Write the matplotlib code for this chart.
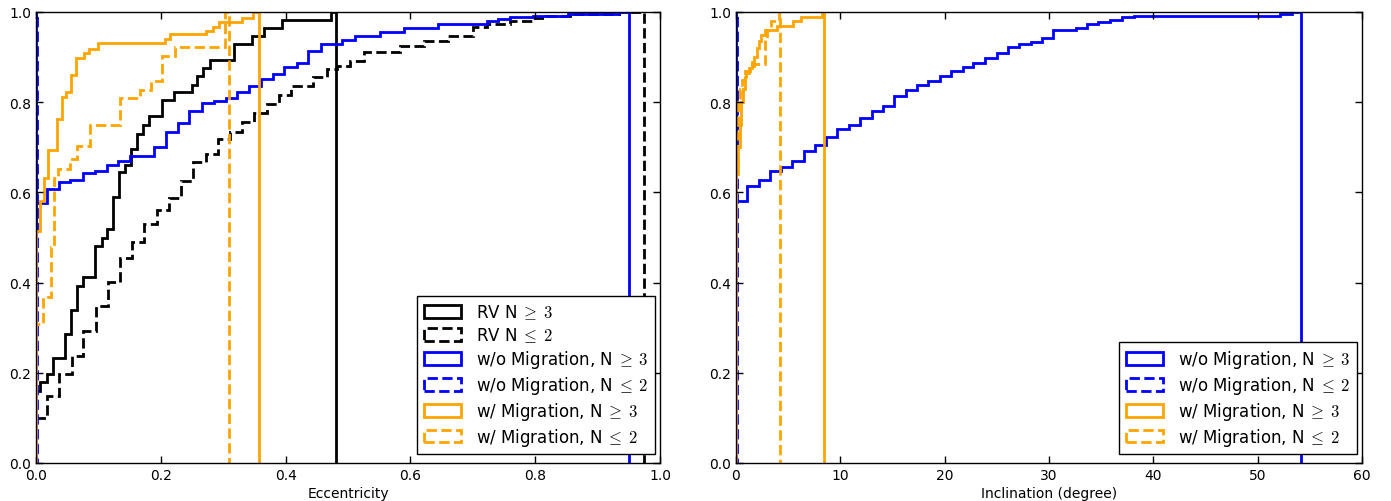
import matplotlib
matplotlib.use("Agg")
import matplotlib.pyplot as plt
from matplotlib.patches import Patch

plt.rcParams['mathtext.fontset'] = 'cm'
plt.rcParams['font.family'] = ['DejaVu Sans']

# ---------------- Left panel: eccentricity (cumulative fractions) ----------------
rv_ge3_edges = [0, 0.0064, 0.0171, 0.0267, 0.0459, 0.0556, 0.0652, 0.0748, 0.0946, 0.1052,
                0.1143, 0.1229, 0.1335, 0.1426, 0.1517, 0.1624, 0.1720, 0.1816, 0.2014, 0.2212,
                0.2495, 0.2585, 0.2682, 0.2789, 0.3173, 0.3456, 0.3659, 0.3948, 0.4728, 0.481]
rv_ge3_vals = [0.16, 0.18, 0.197, 0.232, 0.286, 0.34, 0.393, 0.412, 0.482, 0.50,
               0.519, 0.59, 0.645, 0.661, 0.696, 0.73, 0.749, 0.769, 0.805, 0.822,
               0.838, 0.857, 0.875, 0.893, 0.928, 0.946, 0.964, 0.982, 1.0]

rv_le2_edges = [0, 0.0171, 0.0374, 0.0572, 0.0759, 0.0956, 0.1149, 0.1346, 0.1544, 0.1736,
                0.1934, 0.2131, 0.2324, 0.2521, 0.2719, 0.2911, 0.3109, 0.3307, 0.3499, 0.3697,
                0.3894, 0.4087, 0.444, 0.466, 0.482, 0.503, 0.525, 0.583, 0.621, 0.661,
                0.701, 0.722, 0.760, 0.797, 0.818, 0.856, 0.935, 0.975]
rv_le2_vals = [0.099, 0.149, 0.197, 0.237, 0.293, 0.349, 0.402, 0.454, 0.491, 0.530,
               0.562, 0.588, 0.626, 0.667, 0.685, 0.718, 0.733, 0.757, 0.776, 0.796,
               0.816, 0.837, 0.855, 0.874, 0.881, 0.892, 0.912, 0.925, 0.936, 0.947,
               0.966, 0.973, 0.979, 0.986, 0.992, 0.996, 1.0]

nomig_ge3_e_edges = [0, 0.0171, 0.0374, 0.0545, 0.0748, 0.0946, 0.1132, 0.1319, 0.1506, 0.1891,
                     0.2083, 0.2270, 0.2457, 0.2655, 0.2853, 0.3039, 0.3216, 0.3413, 0.3606, 0.3793,
                     0.3980, 0.4177, 0.4364, 0.4562, 0.490, 0.511, 0.551, 0.589, 0.645, 0.722,
                     0.741, 0.760, 0.797, 0.853, 0.935, 0.951]
nomig_ge3_e_vals = [0.577, 0.607, 0.624, 0.628, 0.643, 0.648, 0.661, 0.669, 0.681, 0.701,
                    0.735, 0.754, 0.781, 0.798, 0.803, 0.810, 0.822, 0.835, 0.851, 0.862,
                    0.879, 0.888, 0.914, 0.928, 0.937, 0.946, 0.955, 0.965, 0.973, 0.979,
                    0.984, 0.988, 0.992, 0.996, 1.0]

nomig_le2_e_edges = [0, 0.002]
nomig_le2_e_vals = [1.0]

mig_ge3_e_edges = [0, 0.0064, 0.0128, 0.0198, 0.0331, 0.0411, 0.0481, 0.0556, 0.0636, 0.0775,
                   0.0849, 0.0999, 0.2067, 0.2147, 0.2724, 0.2842, 0.2938, 0.3296, 0.3472, 0.358]
mig_ge3_e_vals = [0.515, 0.582, 0.633, 0.693, 0.763, 0.811, 0.822, 0.860, 0.899, 0.910,
                  0.919, 0.931, 0.940, 0.951, 0.957, 0.967, 0.977, 0.986, 1.0]

mig_le2_e_edges = [0, 0.0107, 0.0235, 0.0288, 0.0357, 0.0545, 0.065, 0.0865, 0.1346, 0.1667,
                   0.1843, 0.2019, 0.2228, 0.303, 0.31]
mig_le2_e_vals = [0.308, 0.367, 0.480, 0.633, 0.652, 0.674, 0.703, 0.749, 0.809, 0.828,
                  0.848, 0.903, 0.923, 1.0]

# ---------------- Right panel: inclination (degree) ----------------
nomig_ge3_i_edges = [0, 1.09, 2.17, 3.23, 4.28, 5.37, 6.52, 7.6, 8.6, 9.71,
                     10.86, 11.89, 13.0, 14.12, 15.14, 16.29, 17.38, 18.43, 19.55, 20.61,
                     21.73, 22.75, 23.87, 24.99, 26.04, 27.12, 28.24, 29.3, 30.35, 32.59,
                     33.61, 34.73, 35.85, 36.97, 38.1, 52.14, 53.26, 54.2]
nomig_ge3_i_vals = [0.580, 0.615, 0.628, 0.647, 0.656, 0.670, 0.691, 0.706, 0.722, 0.741,
                    0.749, 0.764, 0.781, 0.791, 0.813, 0.827, 0.838, 0.848, 0.857, 0.869,
                    0.879, 0.888, 0.897, 0.910, 0.923, 0.929, 0.933, 0.942, 0.959, 0.964,
                    0.973, 0.977, 0.983, 0.989, 0.992, 0.996, 1.0]

nomig_le2_i_edges = [0, 0.1]
nomig_le2_i_vals = [1.0]

mig_ge3_i_edges = [0, 0.17, 0.34, 0.5, 0.67, 0.85, 1.0, 1.2, 1.5, 1.7,
                   2.0, 2.2, 2.4, 2.75, 3.96, 5.43, 6.2, 8.2, 8.4]
mig_ge3_i_vals = [0.64, 0.70, 0.75, 0.80, 0.83, 0.855, 0.865, 0.875, 0.89, 0.90,
                  0.92, 0.935, 0.95, 0.959, 0.970, 0.979, 0.990, 1.0]

mig_le2_i_edges = [0, 0.085, 0.17, 0.34, 0.6, 0.9, 1.3, 1.75, 2.75, 3.0, 3.4, 4.15, 4.25]
mig_le2_i_vals = [0.64, 0.72, 0.80, 0.83, 0.85, 0.87, 0.88, 0.885, 0.94, 0.96, 0.98, 1.0]

labels_left = [r'RV N$\;\geq\;3$', r'RV N$\;\leq\;2$',
               r'w/o Migration, N$\;\geq\;3$', r'w/o Migration, N$\;\leq\;2$',
               r'w/ Migration, N$\;\geq\;3$', r'w/ Migration, N$\;\leq\;2$']
labels_right = labels_left[2:]

LW = 2.0

fig = plt.figure(figsize=(13.91, 5.02), dpi=100)
ax1 = fig.add_axes([36/1391, 38/502, 624/1391, 451/502])
ax2 = fig.add_axes([736/1391, 38/502, 626/1391, 451/502])


def draw(ax, edges, vals, color, ls):
    ax.stairs(vals, edges, baseline=0, fill=False, color=color, linestyle=ls, linewidth=LW)
    return Patch(facecolor='none', edgecolor=color, linestyle=ls, linewidth=LW)


h = []
h.append(draw(ax1, rv_ge3_edges, rv_ge3_vals, 'black', '-'))
h.append(draw(ax1, rv_le2_edges, rv_le2_vals, 'black', '--'))
h.append(draw(ax1, nomig_ge3_e_edges, nomig_ge3_e_vals, 'blue', '-'))
h.append(draw(ax1, nomig_le2_e_edges, nomig_le2_e_vals, 'blue', '--'))
h.append(draw(ax1, mig_ge3_e_edges, mig_ge3_e_vals, 'orange', '-'))
h.append(draw(ax1, mig_le2_e_edges, mig_le2_e_vals, 'orange', '--'))

h2 = []
h2.append(draw(ax2, nomig_ge3_i_edges, nomig_ge3_i_vals, 'blue', '-'))
h2.append(draw(ax2, nomig_le2_i_edges, nomig_le2_i_vals, 'blue', '--'))
h2.append(draw(ax2, mig_ge3_i_edges, mig_ge3_i_vals, 'orange', '-'))
h2.append(draw(ax2, mig_le2_i_edges, mig_le2_i_vals, 'orange', '--'))

for ax, xmax, xt, xl in [(ax1, 1.0, [0, 0.2, 0.4, 0.6, 0.8, 1.0], 'Eccentricity'),
                         (ax2, 60, [0, 10, 20, 30, 40, 50, 60], 'Inclination (degree)')]:
    ax.set_xlim(0, xmax)
    ax.set_ylim(0, 1.0)
    ax.set_xticks(xt)
    ax.set_yticks([0, 0.2, 0.4, 0.6, 0.8, 1.0])
    ax.tick_params(direction='in', top=True, right=True, length=5, width=1, labelsize=10)
    ax.set_xlabel(xl, fontsize=10, labelpad=3)
    for s in ax.spines.values():
        s.set_linewidth(1.0)

ax1.set_xticklabels(['0.0', '0.2', '0.4', '0.6', '0.8', '1.0'])
ax1.set_yticklabels(['0.0', '0.2', '0.4', '0.6', '0.8', '1.0'])
ax2.set_yticklabels(['0.0', '0.2', '0.4', '0.6', '0.8', '1.0'])

leg_kw = dict(loc='lower right', bbox_to_anchor=(0.992, 0.019), borderaxespad=0,
              fontsize=12, fancybox=False, framealpha=1,
              edgecolor='black', handlelength=2.2, handleheight=0.8,
              labelspacing=0.23, borderpad=0.4, handletextpad=0.9)
l1 = ax1.legend(h, labels_left, **leg_kw)
l2 = ax2.legend(h2, labels_right, **leg_kw)
for l in (l1, l2):
    l.get_frame().set_linewidth(1.0)

fig.savefig('out.png', dpi=100)
